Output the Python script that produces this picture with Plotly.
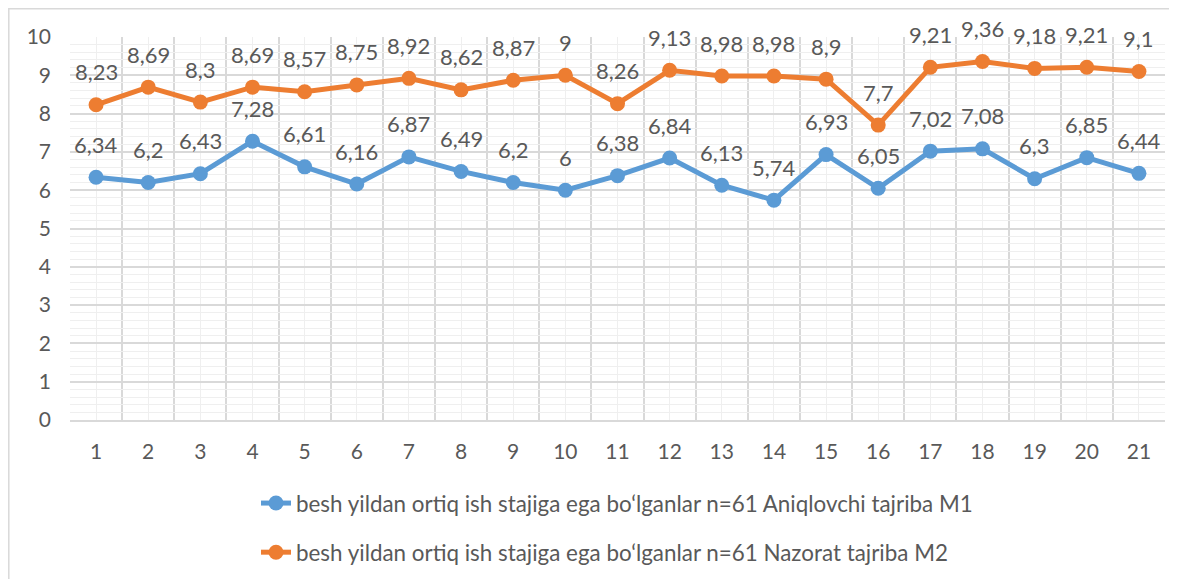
import plotly.graph_objects as go

categories = list(range(1, 22))
m1_values = [6.34, 6.2, 6.43, 7.28, 6.61, 6.16, 6.87, 6.49, 6.2, 6, 6.38, 6.84, 6.13, 5.74, 6.93, 6.05, 7.02, 7.08, 6.3, 6.85, 6.44]
m2_values = [8.23, 8.69, 8.3, 8.69, 8.57, 8.75, 8.92, 8.62, 8.87, 9, 8.26, 9.13, 8.98, 8.98, 8.9, 7.7, 9.21, 9.36, 9.18, 9.21, 9.1]
m1_name = "besh yildan ortiq ish stajiga ega bo‘lganlar n=61 Aniqlovchi tajriba M1"
m2_name = "besh yildan ortiq ish stajiga ega bo‘lganlar n=61 Nazorat tajriba M2"

def lbl(v):
    return [str(x).replace('.', ',') for x in v]

FONT = "Lato, 'Open Sans', sans-serif"
TXT = "#595959"

# figure coords (page body adds an 8px offset)
W, H = 1169, 571
L, R, T, B = 62, 12, 29, 159
PW = W - L - R
PH = H - T - B

fig = go.Figure()
fig.add_trace(go.Scatter(
    x=categories, y=m1_values, name=m1_name, mode="lines+markers",
    line=dict(color="#5B9BD5", width=5), marker=dict(size=15, color="#5B9BD5"),
    legendgroup="a"))
fig.add_trace(go.Scatter(
    x=categories, y=m2_values, name=m2_name, mode="lines+markers",
    line=dict(color="#ED7D31", width=5), marker=dict(size=15, color="#ED7D31"),
    legendgroup="b"))

annotations = []
for vals in (m1_values, m2_values):
    for c, v, t in zip(categories, vals, lbl(vals)):
        annotations.append(dict(x=c, y=v, text=t, showarrow=False, xref="x", yref="y",
                                yanchor="middle", xanchor="center", yshift=33,
                                font=dict(size=22, color=TXT, family=FONT)))

fig.update_layout(
    width=W, height=H,
    margin=dict(l=L, r=R, t=T, b=B, pad=0, autoexpand=False),
    paper_bgcolor="white", plot_bgcolor="white",
    font=dict(family=FONT, color=TXT, size=20),
    showlegend=True,
    annotations=annotations,
    legend=dict(x=(609 - L) / PW, xanchor="center", y=(412 - 474) / PH, yanchor="top",
                orientation="v", font=dict(size=22.4, color=TXT, family=FONT),
                tracegroupgap=17, bgcolor="rgba(0,0,0,0)"),
    xaxis=dict(range=[0.5, 21.5], tickmode="array", tickvals=categories,
               ticktext=[str(c) for c in categories], showgrid=True,
               gridcolor="#EFEFEF", gridwidth=1, zeroline=False, showline=True,
               linecolor="#D9D9D9", linewidth=2, mirror=False, ticks="",
               tickfont=dict(size=21, color=TXT, family=FONT), ticklabelstandoff=12,
               minor=dict(tick0=0.5, dtick=1, showgrid=True, gridcolor="#D9D9D9", gridwidth=2)),
    yaxis=dict(range=[0, 10], dtick=1, tick0=0, showgrid=True, gridcolor="#D9D9D9",
               gridwidth=2, zeroline=False, showline=False, ticks="",
               tickfont=dict(size=21, color=TXT, family=FONT), ticklabelstandoff=18,
               minor=dict(dtick=0.2, showgrid=True, gridcolor="#EFEFEF", gridwidth=1)),
)

fig.add_shape(type="rect", xref="paper", yref="paper",
              x0=(0.8 - L) / PW, x1=1.2,
              y0=-0.6, y1=(412 - 0.8) / PH,
              line=dict(color="#D9D9D9", width=1.5), layer="below")

fig.write_html("out.html")
